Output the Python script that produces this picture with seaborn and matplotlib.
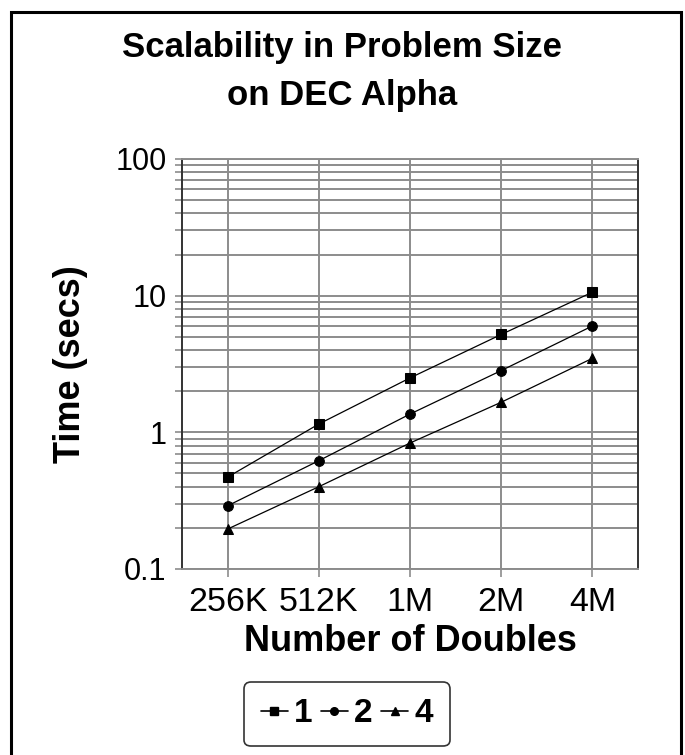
import matplotlib
matplotlib.use("Agg")
import matplotlib.pyplot as plt
import seaborn as sns
import pandas as pd
import numpy as np
from matplotlib.patches import Rectangle
from matplotlib.lines import Line2D
from matplotlib.ticker import LogLocator, NullFormatter, FixedLocator, FixedFormatter

sizes = ["256K", "512K", "1M", "2M", "4M"]
procs = ["1", "2", "4"]
t_1 = [0.47, 1.15, 2.5, 5.2, 10.6]
t_2 = [0.29, 0.62, 1.36, 2.83, 6.0]
t_4 = [0.196, 0.40, 0.835, 1.66, 3.48]
y_ticks = [0.1, 1, 10, 100]
y_tick_labels = ["0.1", "1", "10", "100"]

sns.set_theme(style="white")
plt.rcParams['font.family'] = ['Liberation Sans', 'DejaVu Sans']
plt.rcParams['text.color'] = 'black'
plt.rcParams['axes.labelcolor'] = 'black'
plt.rcParams['xtick.color'] = 'black'
plt.rcParams['ytick.color'] = 'black'

rows = []
for p, vals in zip(procs, [t_1, t_2, t_4]):
    for s, v in zip(sizes, vals):
        rows.append({"size": s, "time": v, "procs": p})
df = pd.DataFrame(rows)

fig = plt.figure(figsize=(6.85, 7.55), dpi=100)
ax = fig.add_axes([182/685, 1-569/755, 456/685, 410/755])

ax.set_yscale("log")
sns.lineplot(data=df, x="size", y="time", hue="procs", style="procs",
             markers=["s", "o", "^"], dashes=False, palette=["black"]*3,
             markersize=7, linewidth=0.9, markeredgecolor="black",
             ax=ax, legend=False, zorder=5)

ax.set_xlim(-0.5, len(sizes)-0.5)
ax.set_ylim(0.1, 100)
ax.yaxis.set_major_locator(FixedLocator(y_ticks))
ax.yaxis.set_major_formatter(FixedFormatter(y_tick_labels))
ax.yaxis.set_minor_locator(LogLocator(base=10, subs=np.arange(2, 10)))
ax.yaxis.set_minor_formatter(NullFormatter())

grid_c = "#8c8c8c"
ax.grid(True, which="both", axis="y", color=grid_c, linewidth=1.4)
ax.grid(True, which="major", axis="x", color=grid_c, linewidth=1.4)
ax.set_axisbelow(True)

for side in ["top", "bottom"]:
    ax.spines[side].set_color(grid_c)
    ax.spines[side].set_linewidth(1.4)
for side in ["left", "right"]:
    ax.spines[side].set_color("#333333")
    ax.spines[side].set_linewidth(1.4)

ax.tick_params(axis="y", which="both", left=True, direction="out", length=5,
               width=1.2, color=grid_c, labelcolor="black", labelsize=22, pad=6)
ax.tick_params(axis="x", which="major", bottom=True, direction="out", length=6,
               width=1.2, color=grid_c, labelcolor="black", labelsize=24.5, pad=7)

ax.set_xlabel("Number of Doubles", fontsize=26, fontweight="bold", labelpad=4,
              color="black")
ax.set_ylabel("Time (secs)", fontsize=26, fontweight="bold", labelpad=20,
              color="black")

fig.text(0.5, 1-48/755, "Scalability in Problem Size", ha="center", va="center",
         fontsize=25, fontweight="bold", color="black")
fig.text(0.5, 1-95/755, "on DEC Alpha", ha="center", va="center",
         fontsize=25, fontweight="bold", color="black")

handles = [Line2D([], [], color="black", marker=m, markersize=5.5, linewidth=1.2)
           for m in ["s", "o", "^"]]
leg = fig.legend(handles, procs, loc="center", bbox_to_anchor=(347/685, 1-714/755),
                 ncol=3, frameon=True, fancybox=True, handlelength=0.8,
                 handletextpad=0.2, columnspacing=0.25, borderpad=0.5,
                 borderaxespad=0, prop={"size": 24, "weight": "bold"})
leg.get_frame().set_edgecolor("black")
leg.get_frame().set_linewidth(1.2)
for t in leg.get_texts():
    t.set_color("black")

fig.patches.append(Rectangle((11/685, -0.05), 670/685, 1.05-12/755,
                             transform=fig.transFigure, fill=False,
                             edgecolor="black", linewidth=2.2))

fig.savefig("out.png", dpi=100)
